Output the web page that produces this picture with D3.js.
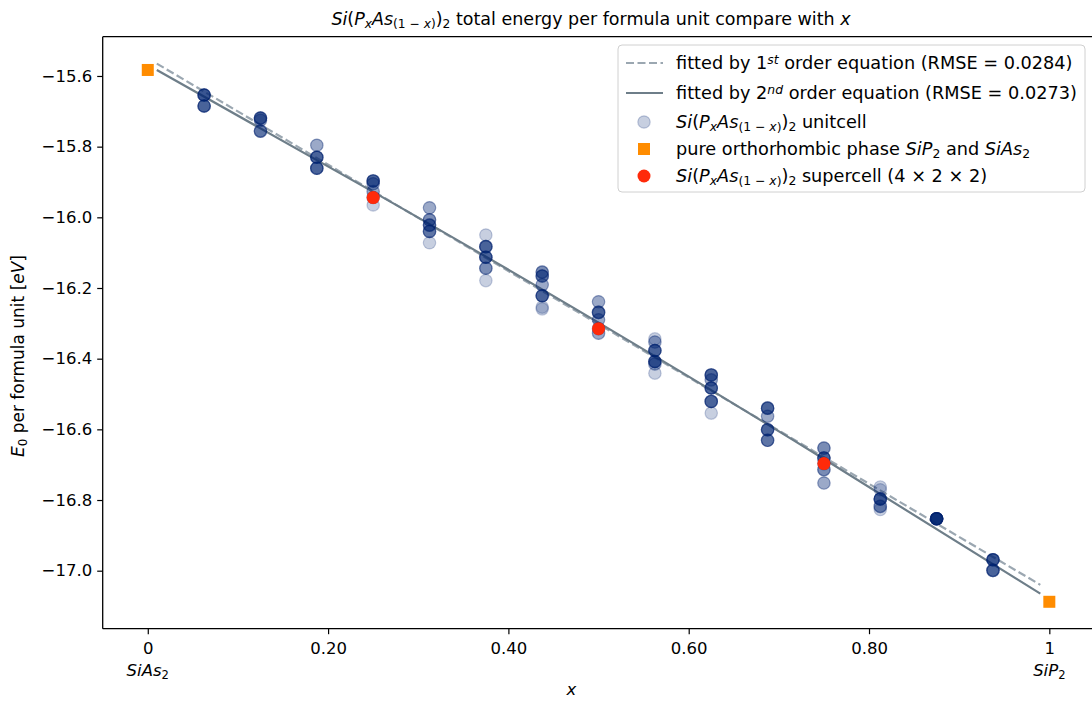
<!DOCTYPE html>
<html>
<head>
<meta charset="utf-8">
<script src="https://cdn.jsdelivr.net/npm/d3@7"></script>
<style>
  body { margin: 0; background: #fff; }
  svg { display: block; font-family: "DejaVu Sans", sans-serif; }
</style>
</head>
<body>
<script>
// unitcell structures: composition x, total energy (eV per formula unit),
// and how many structures sit on the same spot (read from how dark the dot is)
const unitX = [
  0.0625, 0.0625,
  0.125, 0.125, 0.125,
  0.1875, 0.1875, 0.1875,
  0.25, 0.25, 0.25, 0.25, 0.25,
  0.3125, 0.3125, 0.3125, 0.3125, 0.3125,
  0.375, 0.375, 0.375, 0.375, 0.375,
  0.4375, 0.4375, 0.4375, 0.4375, 0.4375, 0.4375,
  0.5, 0.5, 0.5, 0.5, 0.5,
  0.5625, 0.5625, 0.5625, 0.5625, 0.5625, 0.5625,
  0.625, 0.625, 0.625, 0.625, 0.625,
  0.6875, 0.6875, 0.6875, 0.6875,
  0.75, 0.75, 0.75, 0.75, 0.75,
  0.8125, 0.8125, 0.8125, 0.8125, 0.8125,
  0.875,
  0.9375, 0.9375
];
const unitE = [
  -15.654, -15.685,
  -15.719, -15.725, -15.756,
  -15.796, -15.830, -15.861,
  -15.897, -15.905, -15.927, -15.944, -15.965,
  -15.973, -16.007, -16.022, -16.040, -16.072,
  -16.050, -16.083, -16.113, -16.144, -16.179,
  -16.155, -16.166, -16.191, -16.222, -16.254, -16.259,
  -16.239, -16.269, -16.290, -16.315, -16.328,
  -16.344, -16.353, -16.377, -16.408, -16.415, -16.441,
  -16.446, -16.460, -16.483, -16.521, -16.554,
  -16.540, -16.563, -16.601, -16.631,
  -16.653, -16.681, -16.697, -16.714, -16.752,
  -16.763, -16.771, -16.797, -16.818, -16.827,
  -16.853,
  -16.969, -16.999
];
const unitN = [
  6, 5,
  5, 2, 4,
  2, 5, 5,
  5, 2, 2, 2, 1,
  2, 3, 4, 4, 1,
  1, 5, 5, 3, 1,
  3, 4, 2, 5, 1, 1,
  2, 5, 2, 2, 2,
  1, 2, 5, 5, 2, 1,
  5, 2, 5, 5, 1,
  5, 2, 5, 4,
  3, 5, 2, 3, 2,
  1, 1, 6, 3, 1,
  12,
  6, 5
];

// pure orthorhombic phases
const pureX = [0, 1];
const pureE = [-15.583, -17.088];

// 4x2x2 supercells
const superX = [0.25, 0.5, 0.75];
const superE = [-15.944, -16.315, -16.697];

// fitted curves
const fit1X = [0.01, 0.99];
const fit1E = [-15.565, -17.040];
const fit2X = [0.01, 0.25, 0.5, 0.75, 0.99];
const fit2E = [-15.583, -15.928, -16.298, -16.684, -17.065];

const xTicks = [0, 0.2, 0.4, 0.6, 0.8, 1];
const xTickLabels = ["0", "0.20", "0.40", "0.60", "0.80", "1"];
const yTicks = [-15.6, -15.8, -16.0, -16.2, -16.4, -16.6, -16.8, -17.0];

const W = 1092, H = 702;
const navy = "#002470", orange = "#ff8c00", red = "#ff2a0a";
const dotAlpha = 0.22;

const svg = d3.select("body").append("svg")
  .attr("width", W).attr("height", H);

// axes box
const plotLeft = 102.7, plotTop = 36.7, plotBottom = 628.7;

const x = d3.scaleLinear().domain([-0.05, 1.05]).range([plotLeft, 1094.4]);

// y limits: data extents + 5 %, like matplotlib
const allE = unitE.concat(pureE, superE, fit1E, fit2E);
const eMin = d3.min(allE), eMax = d3.max(allE), pad = (eMax - eMin) * 0.05;
const y = d3.scaleLinear().domain([eMin - pad, eMax + pad]).range([plotBottom, plotTop]);

// helper for the Si(PxAs(1-x))2 style mixed text
function rich(sel, parts) {
  parts.forEach(p => {
    const t = sel.append("tspan").text(p.t);
    if (p.it) t.attr("font-style", "italic");
    if (p.sub) t.attr("baseline-shift", "-25%").attr("font-size", "70%");
    if (p.sup) t.attr("baseline-shift", "40%").attr("font-size", "70%");
  });
  return sel;
}
const formula = [
  { t: "Si", it: 1 }, { t: "(" }, { t: "P", it: 1 }, { t: "x", it: 1, sub: 1 },
  { t: "As", it: 1 }, { t: "(1 − ", sub: 1 }, { t: "x", it: 1, sub: 1 }, { t: ")", sub: 1 },
  { t: ")" }, { t: "2", sub: 1 }
];

// fitted lines
const line = d3.line().x(d => x(d[0])).y(d => y(d[1]));
svg.append("path")
  .datum(d3.zip(fit1X, fit1E))
  .attr("d", line)
  .attr("fill", "none").attr("stroke", "#9ba7b1").attr("stroke-width", 2.2)
  .attr("stroke-dasharray", "8,3.5");
svg.append("path")
  .datum(d3.zip(fit2X, fit2E))
  .attr("d", line.curve(d3.curveNatural))
  .attr("fill", "none").attr("stroke", "#6e7e89").attr("stroke-width", 2.2);

// unitcell scatter (each structure drawn once, so stacked ones get darker)
const unitPts = [];
unitX.forEach((v, i) => d3.range(unitN[i]).forEach(() => unitPts.push([v, unitE[i]])));
svg.append("g").selectAll("circle")
  .data(unitPts)
  .join("circle")
  .attr("cx", d => x(d[0])).attr("cy", d => y(d[1]))
  .attr("r", 6.2)
  .attr("fill", navy).attr("fill-opacity", dotAlpha)
  .attr("stroke", navy).attr("stroke-opacity", dotAlpha).attr("stroke-width", 1.2);

// supercells
svg.append("g").selectAll("circle")
  .data(d3.zip(superX, superE))
  .join("circle")
  .attr("cx", d => x(d[0])).attr("cy", d => y(d[1]))
  .attr("r", 6.5).attr("fill", red);

// pure phases
svg.append("g").selectAll("rect")
  .data(d3.zip(pureX, pureE))
  .join("rect")
  .attr("x", d => x(d[0]) - 6).attr("y", d => y(d[1]) - 6)
  .attr("width", 12).attr("height", 12).attr("fill", orange);

// spines
svg.append("line").attr("x1", plotLeft).attr("x2", plotLeft).attr("y1", plotTop).attr("y2", plotBottom)
  .attr("stroke", "#000").attr("stroke-width", 1.3);
svg.append("line").attr("x1", plotLeft).attr("x2", W).attr("y1", plotBottom).attr("y2", plotBottom)
  .attr("stroke", "#000").attr("stroke-width", 1.3);
svg.append("line").attr("x1", plotLeft).attr("x2", W).attr("y1", plotTop).attr("y2", plotTop)
  .attr("stroke", "#000").attr("stroke-width", 1.3);

// y axis
const yAxis = svg.append("g")
  .attr("transform", `translate(${plotLeft},0)`)
  .call(d3.axisLeft(y).tickValues(yTicks).tickFormat(d3.format(".1f"))
    .tickSize(5.5).tickPadding(5));
yAxis.select(".domain").remove();
yAxis.selectAll("text").attr("font-size", 16.5).attr("font-family", "DejaVu Sans").attr("fill", "#000");
yAxis.selectAll("line").attr("stroke-width", 1.2);

// x axis
const xAxis = svg.append("g")
  .attr("transform", `translate(0,${plotBottom})`)
  .call(d3.axisBottom(x).tickValues(xTicks).tickFormat((d, i) => xTickLabels[i])
    .tickSize(5.5).tickPadding(8));
xAxis.select(".domain").remove();
xAxis.selectAll("line").attr("stroke-width", 1.2);
xAxis.selectAll("text")
  .attr("font-size", 16.5).attr("fill", "#000").attr("font-family", "DejaVu Sans");

// second line under the end ticks
[[0, [{ t: "SiAs", it: 1 }, { t: "2", sub: 1 }]], [1, [{ t: "SiP", it: 1 }, { t: "2", sub: 1 }]]]
  .forEach(([v, parts]) => {
    rich(svg.append("text")
      .attr("x", x(v)).attr("y", plotBottom + 47).attr("text-anchor", "middle")
      .attr("font-size", 16.5), parts);
  });

// axis labels
svg.append("text")
  .attr("x", x(0.47)).attr("y", 695).attr("text-anchor", "middle")
  .attr("font-size", 16.5).attr("font-style", "italic").text("x");

rich(svg.append("text")
  .attr("transform", "translate(24,356) rotate(-90)")
  .attr("text-anchor", "middle").attr("font-size", 17),
  [{ t: "E", it: 1 }, { t: "0", sub: 1 }, { t: " per formula unit [" }, { t: "eV", it: 1 }, { t: "]" }]);

// title
rich(svg.append("text")
  .attr("x", 591).attr("y", 25).attr("text-anchor", "middle").attr("font-size", 17.5),
  formula.concat([{ t: " total energy per formula unit compare with " }, { t: "x", it: 1 }]));

// legend
const lg = svg.append("g").attr("transform", "translate(618,45)");
lg.append("rect").attr("width", 467).attr("height", 147).attr("rx", 4)
  .attr("fill", "#fff").attr("fill-opacity", 0.85).attr("stroke", "#d0d0d0");
const rowY = [18, 48, 77, 104, 131];
const tx = 58, fs = 17.7;
lg.append("line").attr("x1", 8).attr("x2", 45).attr("y1", rowY[0]).attr("y2", rowY[0])
  .attr("stroke", "#9ba7b1").attr("stroke-width", 2.2).attr("stroke-dasharray", "8,3.5");
lg.append("line").attr("x1", 8).attr("x2", 45).attr("y1", rowY[1]).attr("y2", rowY[1])
  .attr("stroke", "#6e7e89").attr("stroke-width", 2.2);
lg.append("circle").attr("cx", 26).attr("cy", rowY[2]).attr("r", 6.2)
  .attr("fill", navy).attr("fill-opacity", dotAlpha)
  .attr("stroke", navy).attr("stroke-opacity", dotAlpha).attr("stroke-width", 1.2);
lg.append("rect").attr("x", 20).attr("y", rowY[3] - 6).attr("width", 12).attr("height", 12)
  .attr("fill", orange);
lg.append("circle").attr("cx", 26).attr("cy", rowY[4]).attr("r", 6.5).attr("fill", red);

const labels = [
  [{ t: "fitted by 1" }, { t: "st", it: 1, sup: 1 }, { t: " order equation (RMSE = 0.0284)" }],
  [{ t: "fitted by 2" }, { t: "nd", it: 1, sup: 1 }, { t: " order equation (RMSE = 0.0273)" }],
  formula.concat([{ t: " unitcell" }]),
  [{ t: "pure orthorhombic phase " }, { t: "SiP", it: 1 }, { t: "2", sub: 1 }, { t: " and " },
   { t: "SiAs", it: 1 }, { t: "2", sub: 1 }],
  formula.concat([{ t: " supercell (4 × 2 × 2)" }])
];
labels.forEach((parts, i) => {
  rich(lg.append("text").attr("x", tx).attr("y", rowY[i]).attr("dy", "0.35em")
    .attr("font-size", fs), parts);
});
</script>
</body>
</html>
